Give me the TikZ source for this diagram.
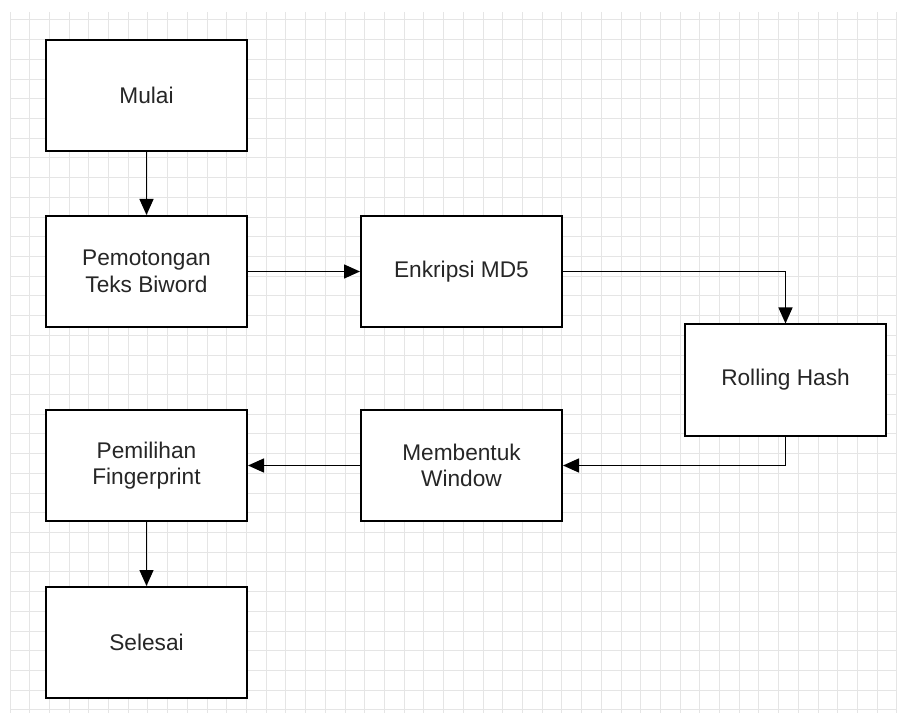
\documentclass[tikz,border=0pt]{standalone}
\usepackage{fontspec}
\setmainfont{Liberation Sans}
\usetikzlibrary{arrows.meta,positioning}
\tikzset{
  box/.style={draw,line width=1.5pt,fill=white,minimum width=150.75pt,minimum height=83.25pt,align=center,inner sep=2pt,font=\fontsize{17}{20}\selectfont,text=black!85},
  arr/.style={-{Triangle[length=12pt,width=10.5pt]},line width=1pt},
  gridln/.style={draw=black!10,line width=0.75pt},
}

\begin{document}
\begin{tikzpicture}[x=0.75pt,y=-0.75pt]
 \useasboundingbox (0,0) rectangle (897,713);
 % background grid
 \foreach \i in {0,...,45} \draw[gridln] ({10+19.71*\i},12) -- ({10+19.71*\i},713);
 \foreach \j in {0,...,35} \draw[gridln] (10,{20+19.71*\j}) -- (897,{20+19.71*\j});

 \node[box] (mulai) at (146.5,95.5){Mulai};
 \node[box] (potong) at (146.5,271.5){Pemotongan\\Teks Biword};
 \node[box] (md5) at (461.5,271.5){Enkripsi MD5};
 \node[box] (hash) at (785.5,380){Rolling Hash};
 \node[box] (window) at (461.5,465.5){Membentuk\\Window};
 \node[box] (pilih) at (146.5,465.5){Pemilihan\\Fingerprint};
 \node[box] (selesai) at (146.5,642.5){Selesai};

 \draw[arr] (mulai) -- (potong);
 \draw[arr] (potong) -- (md5);
 \draw[arr] (md5.east) -| (hash.north);
 \draw[arr] (hash.south) |- (window.east);
 \draw[arr] (window) -- (pilih);
 \draw[arr] (pilih) -- (selesai);
\end{tikzpicture}
\end{document}
